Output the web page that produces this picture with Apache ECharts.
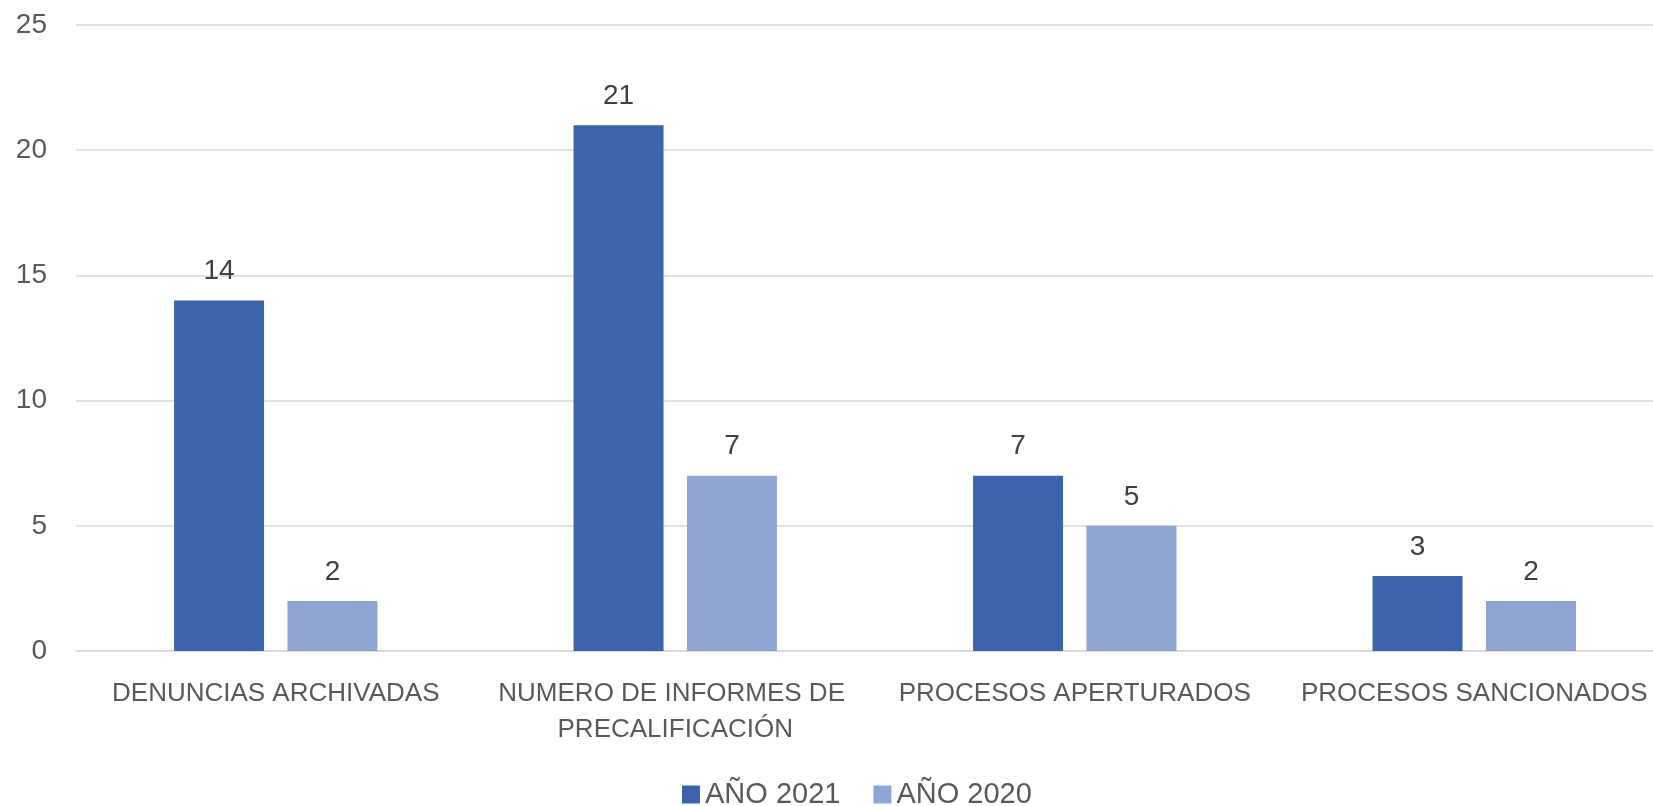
<!DOCTYPE html>
<html>
<head>
<meta charset="utf-8">
<style>html,body{margin:0;padding:0;background:#fff}#c{width:1653px;height:806px}</style>
<script src="https://cdn.jsdelivr.net/npm/echarts@6/dist/echarts.min.js"></script>
</head>
<body>
<div id="c"></div>
<script>
const categories = ["DENUNCIAS ARCHIVADAS", "NUMERO DE INFORMES DE PRECALIFICACIÓN", "PROCESOS APERTURADOS", "PROCESOS SANCIONADOS"];
const seriesNames = ["AÑO 2021", "AÑO 2020"];
const values2021 = [14, 21, 7, 3];
const values2020 = [2, 7, 5, 2];
const yTicks = [0, 5, 10, 15, 20, 25];

const FONT = "Liberation Sans";
const chart = echarts.init(document.getElementById('c'), null, {renderer: 'canvas'});
const labelStyle = {show: true, position: 'top', distance: 15, color: '#404040', fontSize: 28, fontFamily: FONT};
chart.setOption({
  animation: false,
  textStyle: {fontFamily: FONT},
  grid: {left: 76, top: 25, bottom: 155, right: -21, containLabel: false, outerBoundsMode: 'none'},
  legend: {
    top: 775, left: 677, itemWidth: 18, itemHeight: 18, itemGap: 33,
    icon: 'rect',
    textStyle: {fontSize: 29, color: '#595959', fontFamily: FONT},
    data: seriesNames
  },
  xAxis: {
    type: 'category', data: categories,
    axisTick: {show: false},
    axisLine: {lineStyle: {color: '#d9d9d9', width: 1.5}},
    axisLabel: {fontSize: 26, color: '#595959', fontFamily: FONT, margin: 25, lineHeight: 36, width: 370, overflow: 'break', interval: 0}
  },
  yAxis: {
    type: 'value', min: yTicks[0], max: yTicks[yTicks.length - 1], interval: 5,
    axisLine: {show: false}, axisTick: {show: false},
    splitLine: {lineStyle: {color: '#d9d9d9', width: 1.5}},
    axisLabel: {fontSize: 28, color: '#595959', fontFamily: FONT, margin: 29}
  },
  series: [
    {name: seriesNames[0], type: 'bar', data: values2021, barWidth: 90, barGap: '26%', itemStyle: {color: '#3C64AD'}, label: labelStyle},
    {name: seriesNames[1], type: 'bar', data: values2020, barWidth: 90, itemStyle: {color: '#8FA5D4'}, label: labelStyle}
  ]
});
</script>
</body>
</html>
